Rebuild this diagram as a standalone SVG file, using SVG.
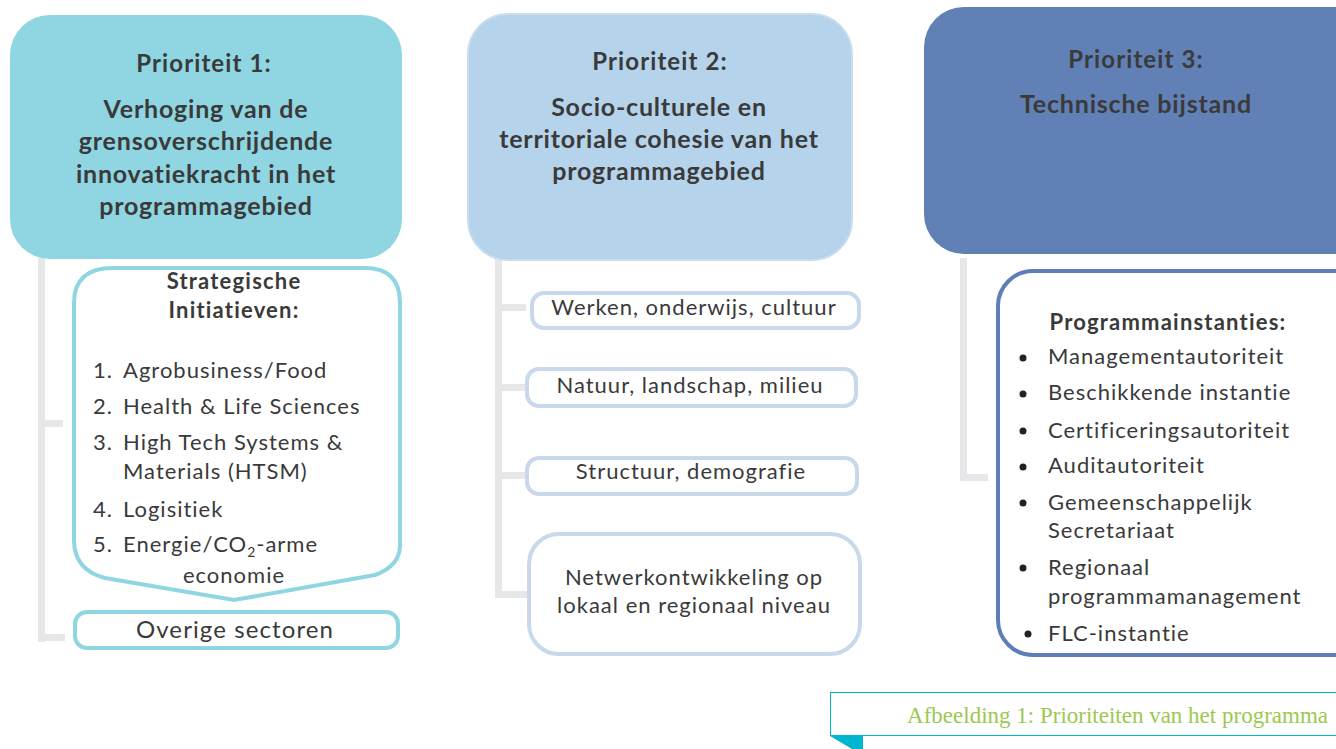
<svg xmlns="http://www.w3.org/2000/svg" width="1336" height="749" viewBox="0 0 1336 749">
<style>
.t{font-family:Lato,"Liberation Sans",sans-serif;fill:#3a3a3a}
.h{font-weight:bold;font-size:25px;letter-spacing:0.8px;text-anchor:middle}
.p{font-weight:bold;font-size:24px;letter-spacing:1.1px;text-anchor:middle}
.l{font-size:22px;letter-spacing:1px}
.c{text-anchor:middle}
.b{font-weight:bold;font-size:22px;letter-spacing:1.2px}
.tree{fill:#e6e7e9}
.s1{fill:#fff;stroke:#8fd6e2;stroke-width:4}
.s2{fill:#fff;stroke:#c9d8ea;stroke-width:4}
.s3{fill:#fff;stroke:#5e7eb8;stroke-width:4}
</style>
<rect width="1336" height="749" fill="#fff"/>
<g id="connectors">
<rect class="tree" x="38" y="258" width="7" height="384"/>
<rect class="tree" x="38" y="420" width="25" height="7"/>
<rect class="tree" x="38" y="634" width="27" height="7"/>
<rect class="tree" x="495" y="258" width="7" height="340"/>
<rect class="tree" x="495" y="304" width="31" height="7"/>
<rect class="tree" x="495" y="384" width="30" height="7"/>
<rect class="tree" x="495" y="472" width="30" height="7"/>
<rect class="tree" x="495" y="591" width="32" height="7"/>
<rect class="tree" x="960" y="258" width="7" height="223"/>
<rect class="tree" x="960" y="474" width="28" height="7"/>
</g>
<g id="p1">
<rect x="10" y="15" width="392" height="244" rx="40" fill="#8fd6e2"/>
<text class="t p" x="204" y="72">Prioriteit 1:</text>
<text class="t h" x="206" y="118">Verhoging van de</text>
<text class="t h" x="206" y="150">grensoverschrijdende</text>
<text class="t h" x="206" y="183">innovatiekracht in het</text>
<text class="t h" x="206" y="215">programmagebied</text>
</g>
<g id="p1-strategisch">
<path class="s1" d="M113,268 H365 Q400,268 400,303 V545 Q400,566 375,575 L234,600 L105,578 Q74,570 74,540 V303 Q74,268 113,268 Z"/>
<text class="t b c" x="234" y="289">Strategische</text>
<text class="t b c" x="234" y="318">Initiatieven:</text>
<text class="t l" x="93" y="378">1.</text><text class="t l" x="123" y="378">Agrobusiness/Food</text>
<text class="t l" x="93" y="414">2.</text><text class="t l" x="123" y="414">Health &amp; Life Sciences</text>
<text class="t l" x="93" y="450">3.</text><text class="t l" x="123" y="450">High Tech Systems &amp;</text>
<text class="t l" x="123" y="479">Materials (HTSM)</text>
<text class="t l" x="93" y="517">4.</text><text class="t l" x="123" y="517">Logisitiek</text>
<text class="t l" x="93" y="552">5.</text><text class="t l" x="123" y="552">Energie/CO<tspan font-size="14" dy="5">2</tspan><tspan dy="-5">-arme</tspan></text>
<text class="t l c" x="234" y="583">economie</text>
</g>
<g id="p1-overige">
<rect class="s1" x="75" y="612" width="323" height="36" rx="12"/>
<text class="t c" x="235" y="638" style="font-size:24px;letter-spacing:1.1px">Overige sectoren</text>
</g>
<g id="p2">
<rect x="468" y="14" width="384" height="246" rx="40" fill="#b5d4ec" stroke="#c9dcee" stroke-width="2"/>
<text class="t p" x="660" y="70">Prioriteit 2:</text>
<text class="t h" x="659" y="116">Socio-culturele en</text>
<text class="t h" x="659" y="148">territoriale cohesie van het</text>
<text class="t h" x="659" y="180">programmagebied</text>
</g>
<g id="p2-werken">
<rect class="s2" x="532" y="293" width="327" height="35" rx="12"/>
<text class="t l c" x="694" y="315">Werken, onderwijs, cultuur</text>
</g>
<g id="p2-natuur">
<rect class="s2" x="527" y="369" width="329" height="37" rx="12"/>
<text class="t l c" x="690" y="393">Natuur, landschap, milieu</text>
</g>
<g id="p2-structuur">
<rect class="s2" x="527" y="458" width="330" height="36" rx="12"/>
<text class="t l c" x="691" y="479">Structuur, demografie</text>
</g>
<g id="p2-netwerk">
<rect class="s2" x="529" y="534" width="331" height="120" rx="30"/>
<text class="t l c" x="694" y="585">Netwerkontwikkeling op</text>
<text class="t l c" x="694" y="613">lokaal en regionaal niveau</text>
</g>
<g id="p3">
<rect x="924" y="7" width="452" height="247" rx="40" fill="#6180b6"/>
<text class="t p" x="1136" y="68">Prioriteit 3:</text>
<text class="t h" x="1136" y="113">Technische bijstand</text>
</g>
<g id="p3-instanties">
<rect class="s3" x="998" y="271" width="378" height="384" rx="35"/>
<text class="t b c" x="1168" y="330">Programmainstanties:</text>
<g fill="#222">
<circle cx="1023" cy="358" r="3.5"/><circle cx="1023" cy="394" r="3.5"/><circle cx="1023" cy="431" r="3.5"/><circle cx="1023" cy="467" r="3.5"/><circle cx="1023" cy="503" r="3.5"/><circle cx="1023" cy="568" r="3.5"/><circle cx="1028" cy="634" r="3.5"/>
</g>
<text class="t l" x="1048" y="364">Managementautoriteit</text>
<text class="t l" x="1048" y="400">Beschikkende instantie</text>
<text class="t l" x="1048" y="438">Certificeringsautoriteit</text>
<text class="t l" x="1048" y="473">Auditautoriteit</text>
<text class="t l" x="1048" y="510">Gemeenschappelijk</text>
<text class="t l" x="1048" y="538">Secretariaat</text>
<text class="t l" x="1048" y="575">Regionaal</text>
<text class="t l" x="1048" y="604">programmamanagement</text>
<text class="t l" x="1048" y="641">FLC-instantie</text>
</g>
<g id="caption">
<polygon points="830,736 863,736 863,749 852,749" fill="#00b5d0"/>
<rect x="830.5" y="692.5" width="510" height="43" fill="#fff" stroke="#00b5d0" stroke-width="1"/>
<text x="1328" y="723" text-anchor="end" font-family="'Liberation Serif',serif" font-size="23" fill="#9bc94f">Afbeelding 1: Prioriteiten van het programma</text>
</g>
</svg>
